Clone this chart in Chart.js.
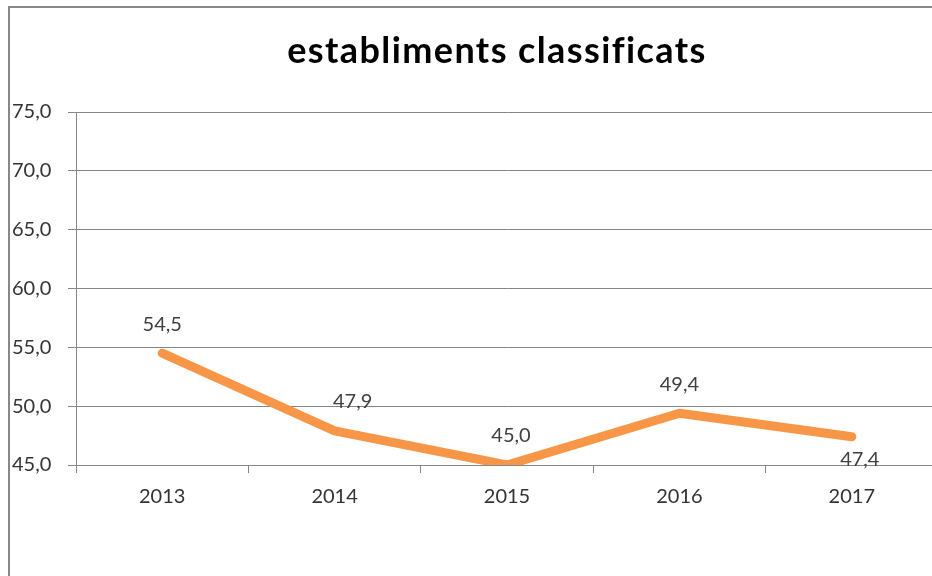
<!DOCTYPE html>
<html>
<head>
<meta charset="utf-8">
<script src="https://cdn.jsdelivr.net/npm/chart.js@4/dist/chart.umd.min.js"></script>
<style>
  html, body { margin: 0; padding: 0; background: #fff; overflow: hidden; width: 932px; height: 576px; }
  #frame { position: absolute; left: 8px; top: 6px; width: 1000px; height: 700px;
           border-top: 2px solid #888; border-left: 2px solid #888; box-sizing: border-box; }
  #wrap { position: absolute; left: 0; top: 0; width: 938px; height: 576px; }
</style>
</head>
<body>
<div id="frame"></div>
<div id="wrap"><canvas id="c" width="938" height="576"></canvas></div>
<script>
const chartTitle = "establiments classificats";
const categories = ["2013", "2014", "2015", "2016", "2017"];
const values = [54.5, 47.9, 45.0, 49.4, 47.4];
const yTicks = { min: 45, max: 75, step: 5 };

const fmt = v => Number(v).toFixed(1).replace('.', ',');
const FONT = "Lato, 'Liberation Sans', sans-serif";

const titlePlugin = {
  id: 'customTitle',
  afterDraw(chart, args, opts) {
    const ctx = chart.ctx;
    ctx.save();
    ctx.font = "bold 36px " + FONT;
    ctx.letterSpacing = opts.spacing + 'px';
    ctx.fillStyle = '#000';
    ctx.textAlign = 'center';
    ctx.textBaseline = 'alphabetic';
    ctx.fillText(opts.text, opts.x, opts.y);
    ctx.restore();
  }
};

const labelPlugin = {
  id: 'pointLabels',
  afterDatasetsDraw(chart, args, opts) {
    const ctx = chart.ctx;
    const meta = chart.getDatasetMeta(0);
    ctx.save();
    ctx.font = "20px " + FONT;
    ctx.fillStyle = '#404040';
    ctx.textAlign = 'center';
    ctx.textBaseline = 'middle';
    meta.data.forEach((pt, i) => {
      const below = opts.below.includes(i);
      const dx = opts.dx[i] || 0;
      const dy = below ? 23 : -29;
      ctx.fillText(fmt(values[i]), pt.x + dx, pt.y + dy);
    });
    ctx.restore();
  }
};

new Chart(document.getElementById('c'), {
  type: 'line',
  data: {
    labels: categories,
    datasets: [{
      data: values,
      borderColor: '#F79646',
      backgroundColor: '#F79646',
      borderWidth: 9,
      borderCapStyle: 'round',
      borderJoinStyle: 'round',
      pointRadius: 0,
      tension: 0,
      clip: 0
    }]
  },
  options: {
    responsive: false,
    animation: false,
    layout: { padding: { left: 12, right: 0, top: 112, bottom: 0 } },
    plugins: {
      legend: { display: false },
      tooltip: { enabled: false },
      title: { display: false },
      customTitle: { text: chartTitle, x: 497, y: 63, spacing: 1.4 },
      pointLabels: { below: [4], dx: [0, 18, 4, 0, 8] }
    },
    scales: {
      x: {
        offset: true,
        grid: { display: true, offset: true, drawOnChartArea: false, color: '#868686', tickLength: 8 },
        border: { display: true, color: '#868686' },
        ticks: { color: '#333', font: { family: FONT, size: 20 }, padding: 12, maxRotation: 0 },
        afterFit: s => { s.height = 111; }
      },
      y: {
        min: yTicks.min,
        max: yTicks.max,
        grid: { color: '#868686', tickLength: 8 },
        border: { display: true, color: '#868686' },
        ticks: {
          stepSize: yTicks.step,
          color: '#333',
          crossAlign: 'far',
          font: { family: FONT, size: 20 },
          callback: v => fmt(v)
        },
        afterFit: s => { s.width = 64; }
      }
    }
  },
  plugins: [labelPlugin, titlePlugin]
});
</script>
</body>
</html>
